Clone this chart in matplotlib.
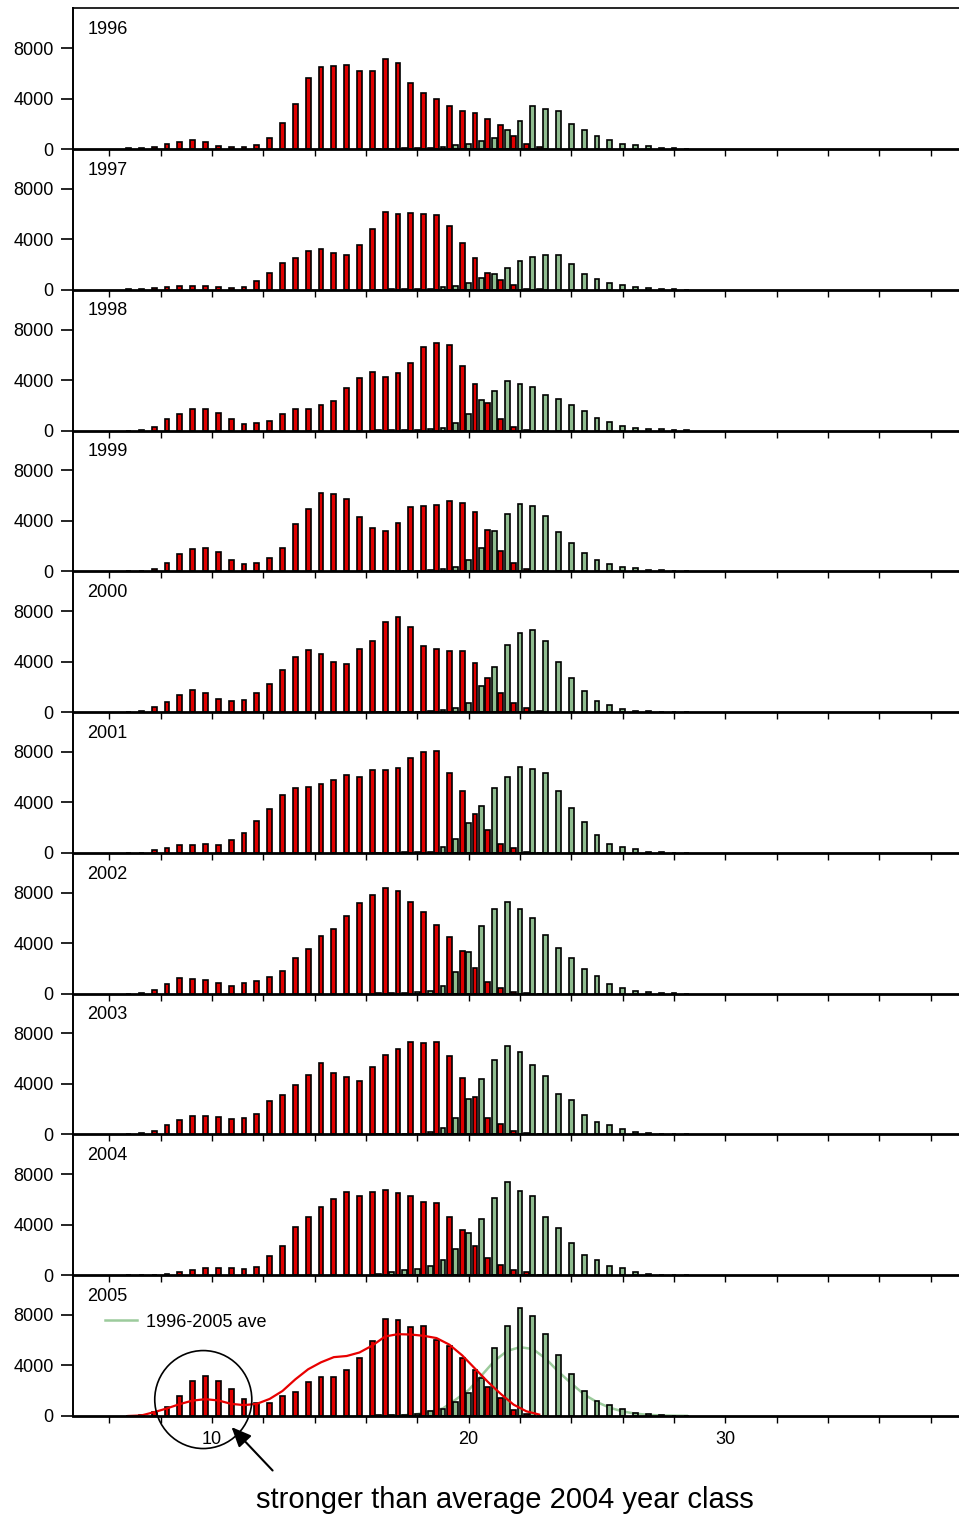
import numpy as np
import matplotlib
matplotlib.use("Agg")
import matplotlib.pyplot as plt
from matplotlib.patches import Ellipse
from matplotlib.ticker import FixedLocator, FuncFormatter

plt.rcParams['font.family'] = ['Liberation Sans', 'DejaVu Sans']

years = ["1996", "1997", "1998", "1999", "2000", "2001", "2002", "2003", "2004", "2005"]

# length classes (half-cm) for the two groups of bars
red_len = np.arange(6.75, 22.8, 0.5)      # 33 classes
green_len = np.arange(16.5, 28.6, 0.5)    # 25 classes

red_1996 = [50, 80, 160, 430, 590, 690, 590, 270, 160, 160, 350, 910, 2030, 3570, 5630, 6510, 6610,
            6640, 6210, 6210, 7120, 6830, 5230, 4480, 4000, 3410, 3010, 2830, 2400, 1870, 1070, 400, 130]
red_1997 = [30, 50, 130, 240, 320, 290, 270, 210, 160, 240, 670, 1310, 2110, 2510, 3040, 3200, 2910,
            2750, 3550, 4830, 6130, 6030, 6080, 6030, 5970, 5090, 3680, 2510, 1360, 750, 400, 100, 30]
red_1998 = [0, 30, 270, 910, 1310, 1730, 1730, 1360, 930, 560, 590, 770, 1310, 1680, 1710, 2000, 2350,
            3390, 4130, 4670, 4270, 4560, 5360, 6590, 6910, 6750, 5150, 3680, 2210, 930, 270, 50, 0]
red_1999 = [0, 30, 190, 670, 1390, 1760, 1890, 1520, 910, 610, 690, 1070, 1870, 3760, 4910, 6190, 6110,
            5730, 4270, 3440, 3230, 3810, 5070, 5170, 5280, 5550, 5390, 4720, 3310, 1600, 690, 190, 30]
red_2000 = [30, 80, 400, 800, 1390, 1760, 1520, 1070, 880, 990, 1490, 2240, 3330, 4400, 4960, 4610, 3950,
            3810, 4990, 5650, 7120, 7520, 6770, 5230, 5040, 4850, 4880, 3870, 2670, 1520, 720, 290, 80]
red_2001 = [0, 30, 210, 400, 610, 640, 670, 610, 1010, 1550, 2510, 3470, 4560, 5170, 5230, 5490, 5790,
            6210, 6050, 6590, 6590, 6750, 7520, 8000, 8050, 6370, 4910, 3070, 1810, 670, 350, 110, 30]
red_2002 = [0, 80, 320, 770, 1230, 1170, 1120, 880, 640, 850, 1040, 1330, 1810, 2850, 3520, 4530, 5150,
            6160, 7170, 7810, 8350, 8160, 7280, 6450, 5410, 4480, 3410, 2000, 910, 450, 160, 50, 0]
red_2003 = [0, 80, 270, 720, 1150, 1490, 1470, 1390, 1230, 1330, 1650, 2640, 3120, 3920, 4720, 5630, 4830,
            4560, 4270, 5330, 6270, 6750, 7310, 7280, 7310, 6190, 4510, 2930, 1280, 830, 270, 80, 0]
red_2004 = [10, 30, 50, 110, 240, 400, 560, 560, 610, 530, 640, 1490, 2290, 3810, 4590, 5390, 6000,
            6560, 6270, 6560, 6750, 6480, 6240, 5760, 5680, 4610, 3550, 2350, 1330, 800, 430, 240, 50]
red_2005 = [10, 50, 300, 740, 1590, 2750, 3200, 2770, 2120, 1360, 1010, 1030, 1560, 1870, 2670, 3070, 3070,
            3630, 4600, 5900, 7680, 7600, 7010, 7100, 6050, 5560, 4580, 3680, 2290, 1390, 510, 190, 30]

green_1996 = [30, 40, 50, 60, 80, 130, 290, 430, 610, 880, 1490, 2240, 3440, 3150, 3010, 1950, 1550,
              1040, 690, 400, 290, 210, 110, 50, 20]
green_1997 = [20, 30, 40, 50, 100, 210, 290, 560, 910, 1280, 1710, 2320, 2610, 2800, 2750, 2030, 1280,
              850, 510, 350, 190, 130, 80, 30, 10]
green_1998 = [20, 30, 40, 50, 100, 190, 590, 1310, 2430, 3150, 3920, 3680, 3470, 2830, 2480, 2000, 1520,
              1010, 690, 370, 190, 160, 110, 50, 20]
green_1999 = [20, 30, 40, 50, 110, 160, 350, 930, 1840, 3170, 4510, 5330, 5150, 4400, 3120, 2240, 1470,
              930, 610, 370, 240, 110, 80, 50, 20]
green_2000 = [20, 30, 40, 50, 110, 190, 320, 750, 2050, 3600, 5330, 6290, 6530, 5600, 3970, 2670, 1650,
              910, 560, 270, 130, 80, 50, 30, 10]
green_2001 = [20, 30, 40, 50, 110, 480, 1090, 2350, 3710, 5170, 6000, 6800, 6610, 6320, 4880, 3520, 2430,
              1410, 690, 450, 290, 110, 50, 20, 10]
green_2002 = [20, 30, 50, 100, 210, 590, 1730, 3310, 5360, 6720, 7280, 6690, 5970, 4640, 3650, 2830, 1950,
              1390, 750, 430, 190, 130, 50, 20, 10]
green_2003 = [20, 30, 40, 50, 210, 510, 1330, 2770, 4430, 5870, 7040, 6530, 5470, 4640, 3200, 2750, 1550,
              990, 720, 450, 210, 110, 30, 10, 0]
green_2004 = [80, 290, 450, 480, 750, 1230, 2110, 3310, 4480, 6110, 7360, 6640, 6290, 4610, 3730, 2530, 1570,
              1200, 750, 610, 240, 110, 50, 20, 0]
green_2005 = [50, 60, 80, 190, 400, 560, 1070, 1790, 3000, 5360, 7120, 8530, 7930, 6520, 4830, 3300, 1950,
              1210, 860, 540, 260, 140, 70, 20, 0]

# 1996-2005 averages drawn in the last panel
red_ave = [0, 40, 300, 600, 940, 1220, 1330, 1230, 960, 860, 960, 1350, 1980, 2900, 3700, 4250, 4660,
           4750, 5030, 5580, 6300, 6480, 6450, 6350, 6170, 5650, 4800, 3750, 2700, 1750, 900, 370, 110]
green_ave = [20, 30, 60, 150, 330, 600, 1300, 2050, 3200, 4350, 5150, 5450, 5300, 4550, 3500, 2580, 1700,
             1100, 650, 360, 180, 90, 40, 20, 10]

reds = [red_1996, red_1997, red_1998, red_1999, red_2000, red_2001, red_2002, red_2003, red_2004, red_2005]
greens = [green_1996, green_1997, green_1998, green_1999, green_2000, green_2001, green_2002, green_2003,
          green_2004, green_2005]

red_col = '#E00000'
green_col = '#8FBC8F'

fig, axes = plt.subplots(10, 1, figsize=(9.59, 15.17), dpi=100, sharex=True)
fig.subplots_adjust(left=0.0761, right=1.0, top=0.9945, bottom=0.0666, hspace=0)

for i, ax in enumerate(axes):
    # transparent background so the panel above keeps its axis line and ticks
    ax.patch.set_visible(False)
    ax.bar(red_len, reds[i], width=0.19, color=red_col, edgecolor='black', linewidth=1.2, zorder=3)
    ax.bar(green_len, greens[i], width=0.19, color=green_col, edgecolor='black', linewidth=1.2, zorder=3)
    ax.set_xlim(4.59, 39.1)
    ax.set_ylim(0, 11150)
    ax.set_yticks([0, 4000, 8000])
    ax.xaxis.set_major_locator(FixedLocator(np.arange(6, 39, 2)))
    ax.xaxis.set_major_formatter(FuncFormatter(lambda v, p: str(int(v)) if int(round(v)) % 10 == 0 else ''))
    ax.tick_params(axis='y', direction='out', length=9, width=1.2, labelsize=13, pad=5)
    ax.tick_params(axis='x', direction='out', length=5, width=1.0, labelsize=13, pad=6)
    ax.spines['right'].set_visible(False)
    ax.spines['top'].set_visible(i == 0)
    ax.spines['top'].set_linewidth(1.2)
    ax.spines['left'].set_linewidth(1.4)
    ax.spines['bottom'].set_linewidth(2.0)
    ax.spines['bottom'].set_zorder(5)
    ax.text(0.016, 0.85, years[i], transform=ax.transAxes, fontsize=13, ha='left', va='center')

ax = axes[-1]
ax.plot(green_len, green_ave, color='#9CCB9C', linewidth=1.8, zorder=2, label='1996-2005 ave')
ax.plot(red_len, red_ave, color='#E80000', linewidth=1.6, zorder=4)
ax.legend(loc='center left', bbox_to_anchor=(0.036, 0.667), frameon=False, fontsize=13,
          borderpad=0, borderaxespad=0, handlelength=1.8, handletextpad=0.45)

# circle around the strong 2004 year class and the arrow pointing at it
ax.add_patch(Ellipse((9.665, 1300), width=3.78, height=7760, fill=False, edgecolor='black',
                     linewidth=1.2, clip_on=False, zorder=6))
ax.annotate('', xy=(10.69, -720), xytext=(12.44, -4480), annotation_clip=False,
            arrowprops=dict(arrowstyle='-|>,head_length=0.8,head_width=0.35', color='black',
                            lw=1.5, mutation_scale=15))
fig.text(505 / 959, 1 - 1500 / 1517, 'stronger than average 2004 year class', ha='center', va='center',
         fontsize=21)

fig.savefig('out.png', dpi=100)
